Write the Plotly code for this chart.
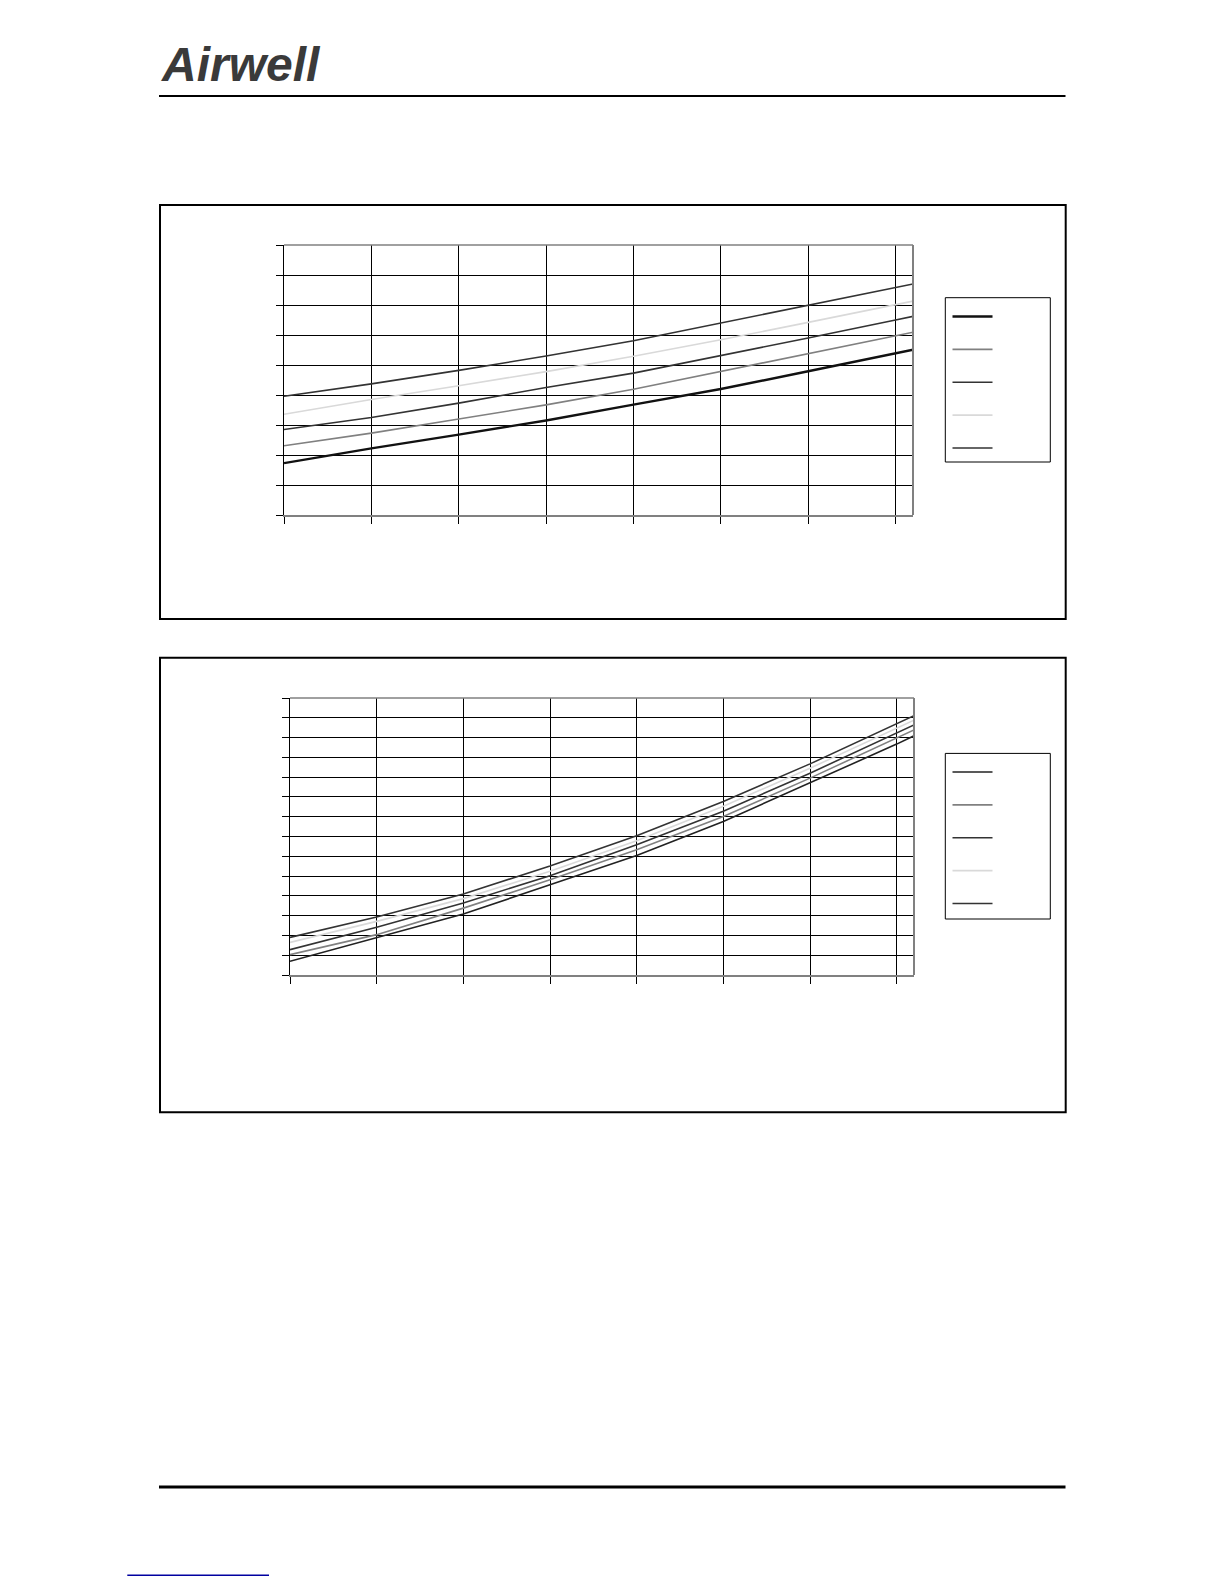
import plotly.graph_objects as go

# page is 1224x1584; the browser body keeps an 8px margin, so the figure is 16px smaller
OFF = 8
W, H = 1224 - 2 * OFF, 1584 - 2 * OFF

def px(x):
    return (x - OFF) / W

def py(y):
    return 1 - (y - OFF) / H

# ---------------- data (arbitrary units) ----------------
x_vals = [0, 1, 2, 3, 4, 5, 6, 7, 7.2]

# chart 1 (upper)
c1_e = [1.73, 2.22, 2.68, 3.15, 3.68, 4.20, 4.79, 5.39, 5.51]
c1_d = [2.31, 2.73, 3.20, 3.67, 4.19, 4.78, 5.38, 5.98, 6.09]
c1_c = [2.85, 3.25, 3.73, 4.25, 4.73, 5.31, 5.90, 6.50, 6.62]
c1_b = [3.36, 3.85, 4.31, 4.78, 5.29, 5.84, 6.42, 7.02, 7.13]
c1_a = [3.96, 4.37, 4.82, 5.30, 5.81, 6.40, 6.98, 7.58, 7.70]

# chart 2 (lower)
c2_e = [0.69, 1.87, 3.08, 4.56, 6.04, 7.76, 9.70, 11.67, 12.09]
c2_d = [1.03, 2.04, 3.38, 4.81, 6.33, 8.01, 9.95, 11.96, 12.39]
c2_c = [1.28, 2.41, 3.64, 5.02, 6.58, 8.28, 10.20, 12.21, 12.64]
c2_b = [1.65, 2.71, 3.86, 5.24, 6.78, 8.53, 10.45, 12.45, 12.88]
c2_a = [1.90, 2.93, 4.09, 5.51, 7.04, 8.77, 10.67, 12.69, 13.11]

series_names = ["\u00a0", "\u00a0", "\u00a0", "\u00a0", "\u00a0"]

c1_styles = [("#111111", 2.4), ("#808080", 1.6), ("#333333", 1.6), ("#d9d9d9", 1.6), ("#333333", 1.6)]
c2_styles = [("#222222", 1.6), ("#808080", 1.6), ("#333333", 1.6), ("#d9d9d9", 1.6), ("#333333", 1.6)]

fig = go.Figure()

for vals, (col, w), nm in zip([c1_e, c1_d, c1_c, c1_b, c1_a], c1_styles, series_names):
    fig.add_trace(go.Scatter(x=x_vals, y=vals, mode="lines", name=nm,
                             line=dict(color=col, width=w), hoverinfo="skip",
                             xaxis="x", yaxis="y", legend="legend"))

for vals, (col, w), nm in zip([c2_e, c2_d, c2_c, c2_b, c2_a], c2_styles, series_names):
    fig.add_trace(go.Scatter(x=x_vals, y=vals, mode="lines", name=nm,
                             line=dict(color=col, width=w), hoverinfo="skip",
                             xaxis="x2", yaxis="y2", legend="legend2"))

axis_common = dict(showgrid=True, gridcolor="#000000", gridwidth=1, zeroline=False,
                   showticklabels=False, ticks="outside", ticklen=7, tickcolor="#000000",
                   tickwidth=1, fixedrange=True)

leg_common = dict(xanchor="left", yanchor="top", bgcolor="rgba(0,0,0,0)", borderwidth=0,
                  font=dict(size=23, family="Liberation Sans"), itemwidth=40,
                  traceorder="normal")

fig.update_layout(
    width=W, height=H,
    margin=dict(l=0, r=0, t=0, b=0),
    paper_bgcolor="white", plot_bgcolor="white",
    xaxis=dict(domain=[px(284), px(913)], range=[0, 7.2], dtick=1, tick0=0,
               showline=True, linecolor="#808080", linewidth=2, anchor="y", **axis_common),
    yaxis=dict(domain=[py(515), py(245)], range=[0, 9], dtick=1, tick0=0,
               showline=True, linecolor="#000000", linewidth=1, anchor="x", **axis_common),
    xaxis2=dict(domain=[px(290), px(914)], range=[0, 7.2], dtick=1, tick0=0,
                showline=True, linecolor="#808080", linewidth=2, anchor="y2", **axis_common),
    yaxis2=dict(domain=[py(975), py(698)], range=[0, 14], dtick=1, tick0=0,
                showline=True, linecolor="#000000", linewidth=1, anchor="x2", **axis_common),
    legend=dict(x=px(947.5), y=py(295), **leg_common),
    legend2=dict(x=px(947.5), y=py(750.5), **leg_common),
)

shapes = []
# plot-area borders (gray, top and right)
for xr, yr in [("x", "y"), ("x2", "y2")]:
    shapes.append(dict(type="line", xref=xr + " domain", yref=yr + " domain",
                       x0=0, x1=1, y0=1, y1=1, line=dict(color="#808080", width=1.5)))
    shapes.append(dict(type="line", xref=xr + " domain", yref=yr + " domain",
                       x0=1, x1=1, y0=0, y1=1, line=dict(color="#808080", width=2)))
# chart frames
shapes.append(dict(type="rect", xref="paper", yref="paper", x0=px(160), x1=px(1065.7),
                   y0=py(619), y1=py(205), line=dict(color="#000000", width=2)))
shapes.append(dict(type="rect", xref="paper", yref="paper", x0=px(160), x1=px(1065.7),
                   y0=py(1112.3), y1=py(657.7), line=dict(color="#000000", width=2)))
# legend boxes
shapes.append(dict(type="rect", xref="paper", yref="paper", x0=px(945.3), x1=px(1050.3),
                   y0=py(462), y1=py(297.7), line=dict(color="#000000", width=1)))
shapes.append(dict(type="rect", xref="paper", yref="paper", x0=px(945.3), x1=px(1050.3),
                   y0=py(919), y1=py(753.4), line=dict(color="#000000", width=1)))
# header and footer rules
shapes.append(dict(type="line", xref="paper", yref="paper", x0=px(159), x1=px(1065.5),
                   y0=py(96), y1=py(96), line=dict(color="#000000", width=2)))
shapes.append(dict(type="line", xref="paper", yref="paper", x0=px(159), x1=px(1065.5),
                   y0=py(1487), y1=py(1487), line=dict(color="#000000", width=3)))
# link underline at bottom
shapes.append(dict(type="line", xref="paper", yref="paper", x0=px(127.3), x1=px(269),
                   y0=py(1575.3), y1=py(1575.3), line=dict(color="#0000a0", width=1.5)))

fig.update_layout(shapes=shapes)

fig.add_annotation(text="<b><i>Airwell</i></b>", xref="paper", yref="paper", x=px(159), y=py(65),
                   xanchor="left", yanchor="middle", showarrow=False,
                   font=dict(family="Liberation Sans", size=48, color="#3a3a3a"))

fig.write_html("out.html")
